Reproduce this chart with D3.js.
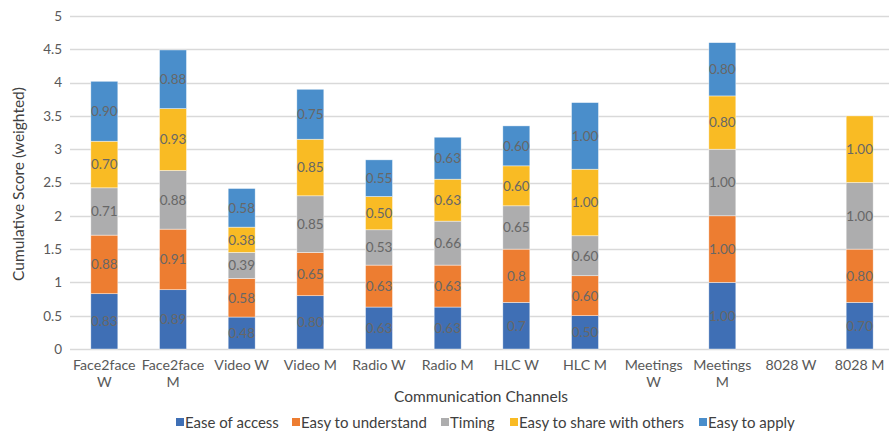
<!DOCTYPE html>
<html>
<head>
<meta charset="utf-8">
<script src="https://cdn.jsdelivr.net/npm/d3@7"></script>
<style>
  html, body { margin: 0; padding: 0; background: #fff; }
  svg { display: block; }
  text { font-family: Lato, "Open Sans", sans-serif; }
</style>
</head>
<body>
<svg id="chart" width="889" height="431"></svg>
<script>
// ---- data ----
const categories = ["Face2face W", "Face2face M", "Video W", "Video M", "Radio W", "Radio M",
                    "HLC W", "HLC M", "Meetings W", "Meetings M", "8028 W", "8028 M"];
const categoryLines = [["Face2face", "W"], ["Face2face", "M"], ["Video W"], ["Video M"], ["Radio W"], ["Radio M"],
                       ["HLC W"], ["HLC M"], ["Meetings", "W"], ["Meetings", "M"], ["8028 W"], ["8028 M"]];
const seriesNames = ["Ease of access", "Easy to understand", "Timing", "Easy to share with others", "Easy to apply"];
const easeOfAccess      = [0.83, 0.89, 0.48, 0.80, 0.63, 0.63, 0.7, 0.50, 0, 1.00, 0, 0.70];
const easyToUnderstand  = [0.88, 0.91, 0.58, 0.65, 0.63, 0.63, 0.8, 0.60, 0, 1.00, 0, 0.80];
const timing            = [0.71, 0.88, 0.39, 0.85, 0.53, 0.66, 0.65, 0.60, 0, 1.00, 0, 1.00];
const easyToShare       = [0.70, 0.93, 0.38, 0.85, 0.50, 0.63, 0.60, 1.00, 0, 0.80, 0, 1.00];
const easyToApply       = [0.90, 0.88, 0.58, 0.75, 0.55, 0.63, 0.60, 1.00, 0, 0.80, 0, 0];
// labels printed with one decimal in the original: [category, series]
const oneDecimalLabels = [["HLC W", "Ease of access"], ["HLC W", "Easy to understand"]];
const yTicks = [0, 0.5, 1, 1.5, 2, 2.5, 3, 3.5, 4, 4.5, 5];
const colors = ["#3F6FB5", "#ED7D31", "#ADADAE", "#F9BB24", "#4A8ECB"];

// ---- build ----
const seriesValues = [easeOfAccess, easyToUnderstand, timing, easyToShare, easyToApply];
const table = categories.map((c, i) => {
  const row = { category: c };
  seriesNames.forEach((s, j) => row[s] = seriesValues[j][i]);
  return row;
});
const stacked = d3.stack().keys(seriesNames)(table);

const svg = d3.select("#chart");
const x = d3.scaleBand().domain(categories).range([70, 894]).paddingInner(0.607).paddingOuter(0.3035);
const y = d3.scaleLinear().domain([0, 5]).range([349, 16]);

// gridlines
svg.append("g").selectAll("line").data(yTicks).join("line")
  .attr("x1", 70).attr("x2", 889)
  .attr("y1", d => Math.round(y(d)) + 0.5).attr("y2", d => Math.round(y(d)) + 0.5)
  .attr("stroke", "#D9D9D9").attr("stroke-width", 1.3);

// y axis labels
const yAxis = d3.axisLeft(y).tickValues(yTicks).tickSize(0).tickPadding(0).tickFormat(d3.format(""));
const yg = svg.append("g").attr("transform", "translate(62,0)").call(yAxis);
yg.select(".domain").remove();
yg.selectAll("text").attr("font-size", 13.5).attr("fill", "#595959")
  .style("font-family", "Lato, 'Open Sans', sans-serif");

// bars
const layers = svg.append("g").selectAll("g").data(stacked).join("g")
  .attr("fill", (d, i) => colors[i]);
layers.selectAll("rect").data(d => d).join("rect")
  .attr("x", d => x(d.data.category))
  .attr("width", x.bandwidth())
  .attr("y", d => y(d[1]))
  .attr("height", d => Math.max(0, y(d[0]) - y(d[1])))
  .attr("stroke", "#ffffff").attr("stroke-width", 0.6).attr("stroke-opacity", 0.7);

// data labels
layers.each(function (layer) {
  const key = layer.key;
  d3.select(this).selectAll("text").data(layer.filter(d => d[1] - d[0] > 0)).join("text")
    .attr("x", d => x(d.data.category) + x.bandwidth() / 2)
    .attr("y", d => y((d[0] + d[1]) / 2))
    .attr("dy", "0.36em")
    .attr("text-anchor", "middle")
    .attr("font-size", 13.5)
    .attr("fill", "#676767")
    .text(d => {
      const v = d.data[key];
      const short = oneDecimalLabels.some(p => p[0] === d.data.category && p[1] === key);
      return short ? v.toFixed(1) : v.toFixed(2);
    });
});

// x axis labels
const xg = svg.append("g");
categories.forEach((c, i) => {
  const t = xg.append("text")
    .attr("x", x(c) + x.bandwidth() / 2)
    .attr("y", 370)
    .attr("text-anchor", "middle")
    .attr("font-size", 14.2)
    .attr("fill", "#595959");
  categoryLines[i].forEach((line, k) => {
    t.append("tspan").attr("x", x(c) + x.bandwidth() / 2).attr("dy", k === 0 ? 0 : 17).text(line);
  });
});

// axis titles
svg.append("text").attr("x", 481).attr("y", 402).attr("text-anchor", "middle")
  .attr("font-size", 15.5).attr("fill", "#404040").text("Communication Channels");
svg.append("text").attr("transform", "translate(24,184) rotate(-90)").attr("text-anchor", "middle")
  .attr("font-size", 15.5).attr("fill", "#404040").text("Cumulative Score (weighted)");

// legend
const legendX = [176, 292, 441, 510, 699];
const lg = svg.append("g").selectAll("g").data(seriesNames).join("g")
  .attr("transform", (d, i) => `translate(${legendX[i]},0)`);
lg.append("rect").attr("x", 0).attr("y", 418).attr("width", 8).attr("height", 8)
  .attr("fill", (d, i) => colors[i]);
lg.append("text").attr("x", 9).attr("y", 427.5).attr("font-size", 15).attr("fill", "#404040").text(d => d);
</script>
</body>
</html>
